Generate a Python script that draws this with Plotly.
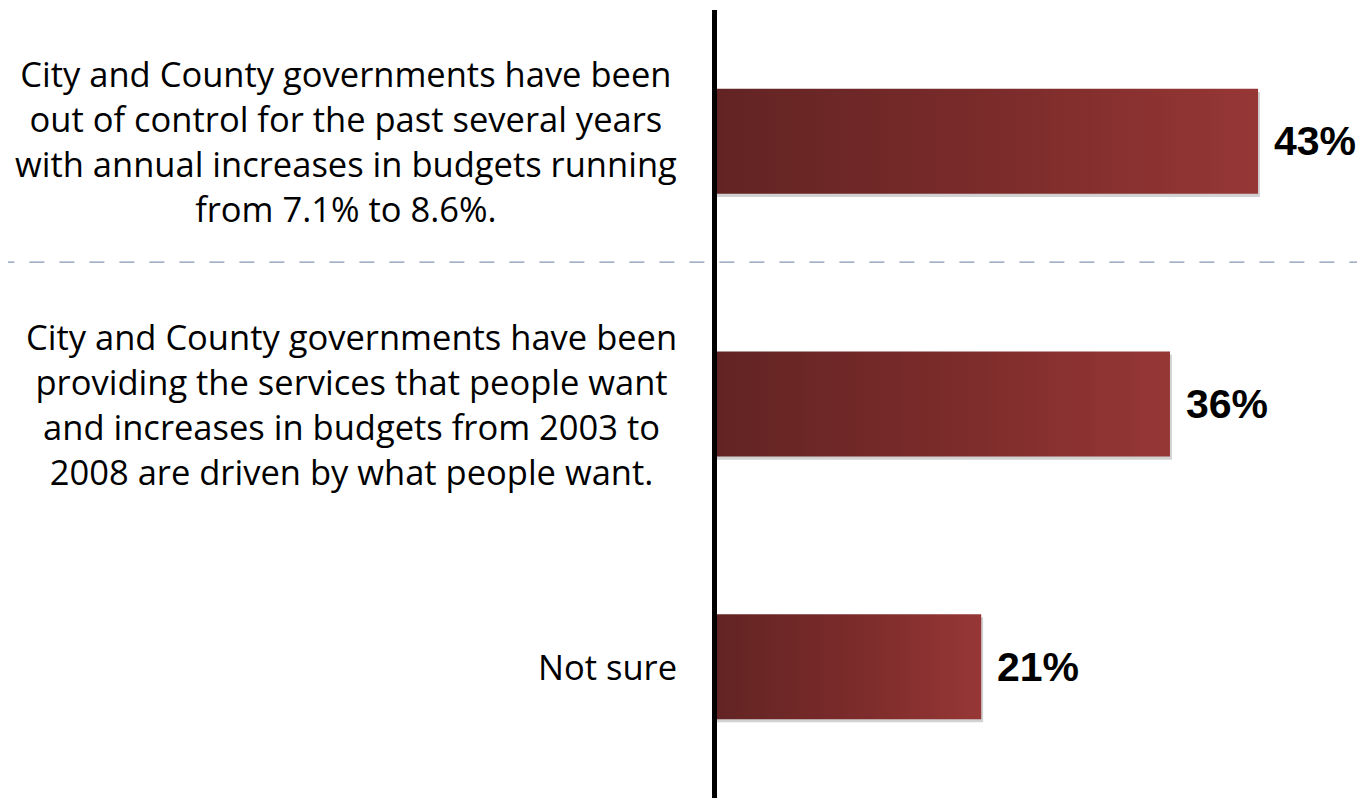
import plotly.graph_objects as go

categories = [
    "City and County governments have been<br>out of control for the past several years<br>with annual increases in budgets running<br>from 7.1% to 8.6%.",
    "City and County governments have been<br>providing the services that people want<br>and increases in budgets from 2003 to<br>2008 are driven by what people want.",
    "Not sure",
]
values = [43, 36, 21]
value_labels = ["43%", "36%", "21%"]

BAR_HALF = 0.2
fig = go.Figure()

for i, v in enumerate(values):
    # soft shadow
    fig.add_trace(go.Scatter(
        x=[0, v + 0.15, v + 0.15, 0, 0],
        y=[i - BAR_HALF + 0.012, i - BAR_HALF + 0.012, i + BAR_HALF + 0.012, i + BAR_HALF + 0.012, i - BAR_HALF + 0.012],
        fill="toself", mode="lines", line=dict(width=0),
        fillcolor="rgba(0,0,0,0.18)", hoverinfo="skip", showlegend=False,
    ))
    fig.add_trace(go.Scatter(
        x=[0, v, v, 0, 0],
        y=[i - BAR_HALF, i - BAR_HALF, i + BAR_HALF, i + BAR_HALF, i - BAR_HALF],
        fill="toself", mode="lines", line=dict(width=0),
        fillgradient=dict(type="horizontal",
                          colorscale=[[0, "#622423"], [0.5, "#7a2b2a"], [1, "#963736"]]),
        hoverinfo="skip", showlegend=False,
    ))
    fig.add_annotation(
        x=v, y=i, xref="x", yref="y", text="<b>%s</b>" % value_labels[i],
        showarrow=False, xanchor="left", yanchor="middle", xshift=14,
        font=dict(family="Liberation Sans", size=41, color="#000000"),
    )
    fig.add_annotation(
        x=0, y=i, xref="paper", yref="y", text=categories[i],
        showarrow=False, xanchor="right", yanchor="middle", xshift=-38,
        align="center",
        font=dict(family="Open Sans", size=34.5, color="#000000"),
    )

fig.add_shape(type="line", xref="paper", yref="y", x0=-1.2, x1=1.2, y0=0.46, y1=0.46,
              line=dict(color="#8598b8", width=1.2, dash="longdash"), layer="below")

fig.update_layout(
    width=1357, height=790,
    margin=dict(l=709, r=0, t=2, b=0),
    paper_bgcolor="white", plot_bgcolor="white",
    xaxis=dict(range=[0, 51.5], visible=False, fixedrange=True),
    yaxis=dict(range=[2.5, -0.5], showticklabels=False, showgrid=False, zeroline=False,
               showline=True, linecolor="black", linewidth=5, ticks=""),
    showlegend=False,
)

fig.write_html("out.html")
